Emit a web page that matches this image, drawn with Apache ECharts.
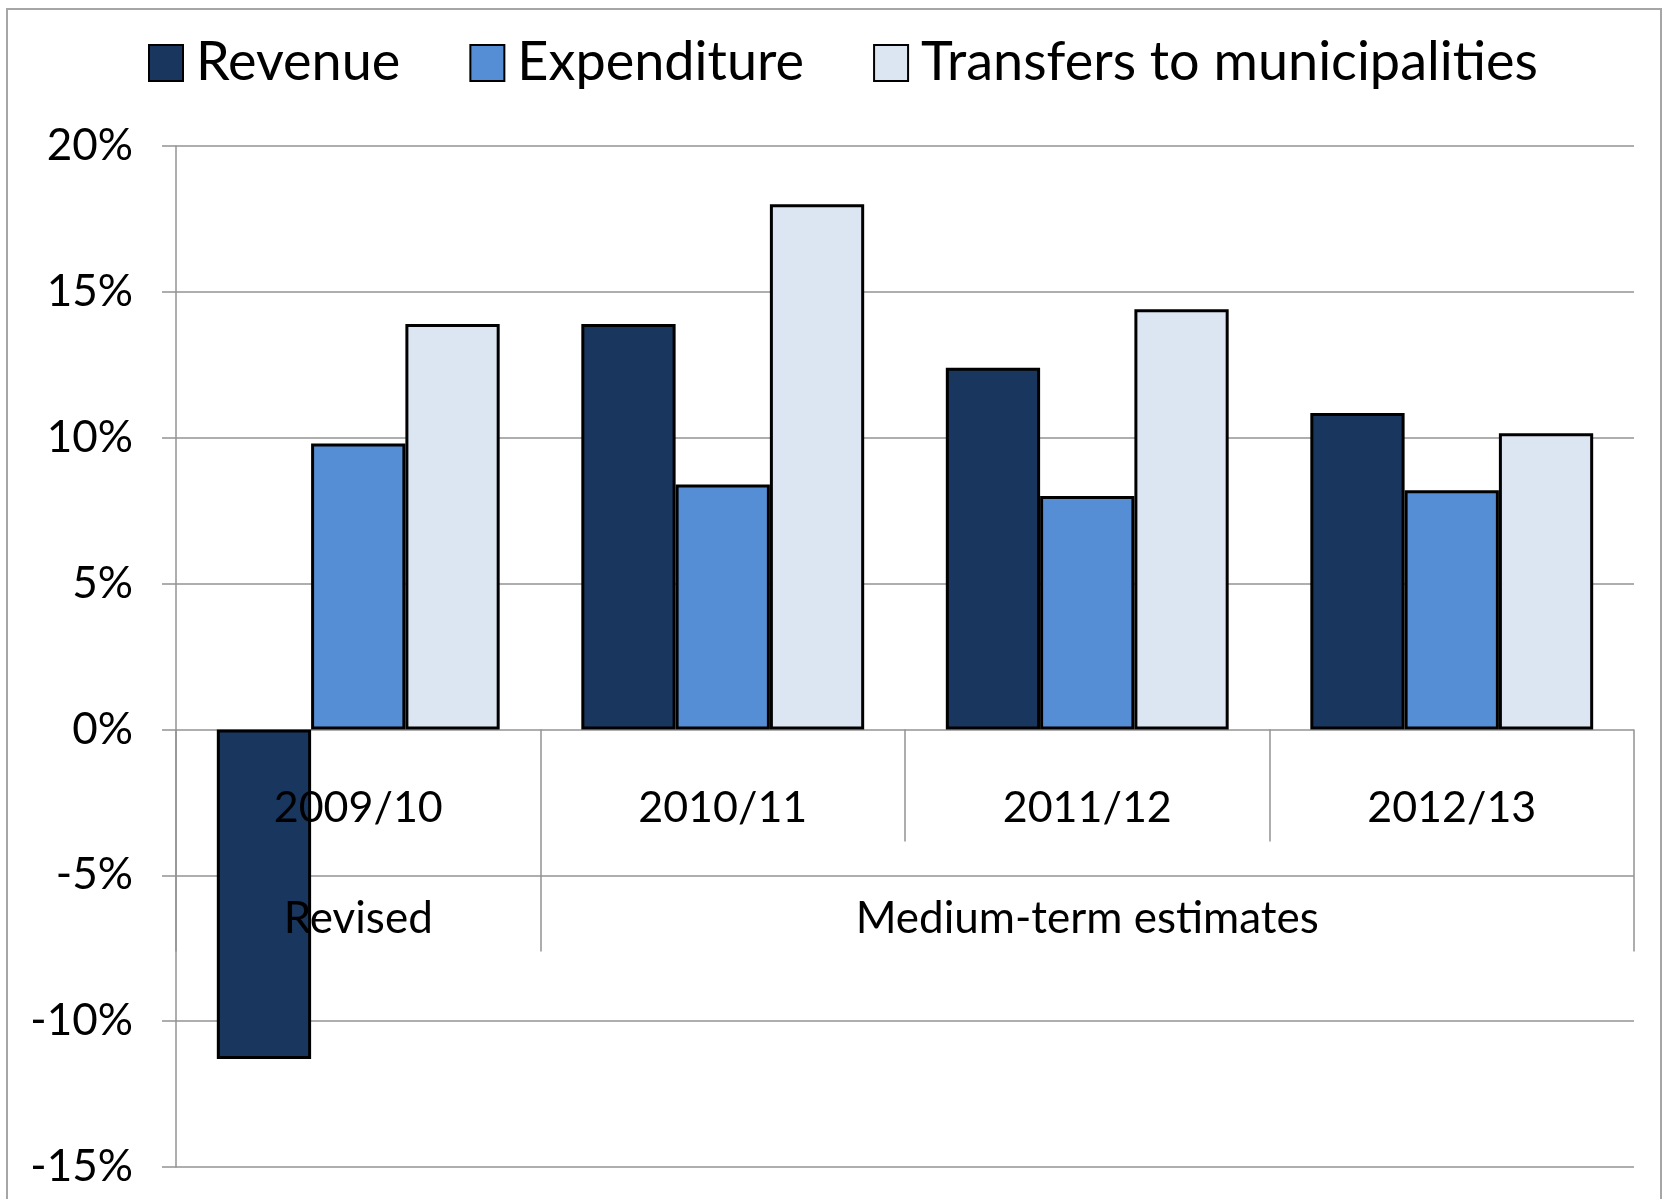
<!DOCTYPE html>
<html>
<head>
<meta charset="utf-8">
<script src="https://cdn.jsdelivr.net/npm/echarts@6/dist/echarts.min.js"></script>
<style>
  html, body { margin: 0; padding: 0; background: #fff; overflow: hidden; }
  #frame { position: absolute; left: 6px; top: 8px; width: 1652px; height: 1220px; border: 2px solid #a6a6a6; }
  #chart { position: absolute; left: 0; top: 0; width: 1663px; height: 1199px; }
</style>
</head>
<body>
<div id="frame"></div>
<div id="chart"></div>
<script>
  // data (percent change)
  var years = ['2009/10', '2010/11', '2011/12', '2012/13'];
  var periods = ['Revised', '', 'Medium-term estimates', ''];
  var revenue = [-11.3, 13.9, 12.4, 10.85];
  var expenditure = [9.8, 8.4, 8.0, 8.2];
  var transfers = [13.9, 18.0, 14.4, 10.15];
  var yTicks = { min: -15, max: 20, step: 5 };

  var font = 'Lato';
  var gray = '#939393';

  var gridTop = 146, gridBottom = 32;
  var plotH = 1199 - gridTop - gridBottom;
  // category axis sits on the zero line: shift it up from the grid bottom
  var zeroOffset = -plotH * (0 - yTicks.min) / (yTicks.max - yTicks.min);

  var myChart = echarts.init(document.getElementById('chart'));

  var barStyle = function (color) {
    return { color: color, borderColor: '#000', borderWidth: 3 };
  };

  var option = {
    animation: false,
    textStyle: { fontFamily: font, color: '#000' },
    legend: {
      top: 31,
      left: 143,
      icon: 'rect',
      itemWidth: 34,
      itemHeight: 36,
      itemGap: 69,
      textStyle: { fontFamily: font, fontSize: 54, color: '#000', padding: [0, 0, 0, 8] },
      data: ['Revenue', 'Expenditure', 'Transfers to municipalities']
    },
    grid: { left: 176, right: 29, top: gridTop, bottom: gridBottom, outerBoundsMode: 'none', containLabel: false },
    xAxis: [{
      type: 'category',
      data: years,
      position: 'bottom',
      offset: zeroOffset,
      z: 5,
      axisLine: { show: false, onZero: false },
      axisTick: { show: true, interval: 0, length: 112, lineStyle: { color: gray, width: 1.5 } },
      axisLabel: { interval: 0, margin: 57, fontFamily: font, fontSize: 43, color: '#000' }
    }, {
      type: 'category',
      data: periods,
      position: 'bottom',
      offset: zeroOffset,
      z: 5,
      axisLine: { show: false, onZero: false },
      axisTick: {
        show: true,
        interval: function (i) { return i <= 1; },
        length: 222,
        lineStyle: { color: gray, width: 1.5 }
      },
      axisLabel: { interval: 0, margin: 167, fontFamily: font, fontSize: 44, color: '#000' }
    }],
    yAxis: {
      type: 'value',
      min: yTicks.min,
      max: yTicks.max,
      interval: yTicks.step,
      axisLine: { show: true, lineStyle: { color: gray, width: 1.5 } },
      axisTick: { show: true, length: 14, lineStyle: { color: gray, width: 1.5 } },
      splitLine: { show: true, lineStyle: { color: gray, width: 1.5 } },
      axisLabel: { margin: 43, fontFamily: font, fontSize: 44, color: '#000', formatter: '{value}%' }
    },
    series: [{
      name: 'Revenue',
      type: 'bar',
      data: revenue,
      barGap: '0%',
      barCategoryGap: '22.4%',
      itemStyle: barStyle('#18365e')
    }, {
      name: 'Expenditure',
      type: 'bar',
      data: expenditure,
      itemStyle: barStyle('#558ed5')
    }, {
      name: 'Transfers to municipalities',
      type: 'bar',
      data: transfers,
      itemStyle: barStyle('#dce6f2')
    }]
  };

  myChart.setOption(option);
</script>
</body>
</html>
